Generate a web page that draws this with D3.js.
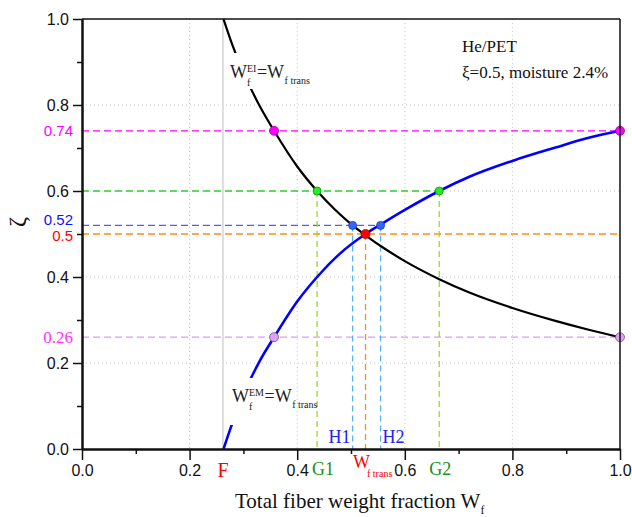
<!DOCTYPE html>
<html>
<head>
<meta charset="utf-8">
<script src="https://cdn.jsdelivr.net/npm/d3@7"></script>
<style>
body { margin: 0; background: #fff; }
.axis text { font-family: "Liberation Sans", Arial, sans-serif; font-size: 16px; fill: #111; }
.axis path, .axis line { stroke: #111; }
.serif { font-family: "Liberation Serif", "Times New Roman", serif; }
</style>
</head>
<body>
<div id="chart"></div>
<script>
// values
const wEI = [0.263, 0.28, 0.30, 0.33, 0.357, 0.40, 0.437, 0.47, 0.503, 0.527, 0.56, 0.60, 0.664, 0.72, 0.80, 0.88, 0.94, 1.0];
const zetaEI = [1.0, 0.938, 0.876, 0.798, 0.74, 0.657, 0.60, 0.557, 0.52, 0.497, 0.468, 0.437, 0.395, 0.364, 0.328, 0.298, 0.278, 0.26];
const wEM = [0.263, 0.28, 0.30, 0.33, 0.357, 0.40, 0.437, 0.48, 0.527, 0.555, 0.60, 0.664, 0.72, 0.80, 0.88, 0.94, 1.0];
const zetaEM = [0.0, 0.062, 0.126, 0.204, 0.26, 0.343, 0.40, 0.455, 0.50, 0.522, 0.556, 0.60, 0.633, 0.670, 0.701, 0.723, 0.74];

const fPoint = 0.262;

const markW = [0.357, 0.437, 0.503, 0.527, 0.555, 0.664, 1.0, 0.357, 1.0];
const markZeta = [0.74, 0.60, 0.52, 0.50, 0.52, 0.60, 0.74, 0.26, 0.26];
const markKind = ['m', 'g', 'h', 'x', 'h', 'g', 'm', 'l', 'l'];

const hLevels = [0.74, 0.60, 0.52, 0.50, 0.26];
const hEnds = [1.0, 0.664, 0.555, 1.0, 1.0];
const hLabels = ['0.74', '', '0.52', '0.5', '0.26'];

const vW = [0.437, 0.503, 0.527, 0.555, 0.664];
const vTops = [0.60, 0.52, 0.50, 0.52, 0.60];

const xTicks = [0, 0.2, 0.4, 0.6, 0.8, 1.0];
const yTicks = [0, 0.2, 0.4, 0.6, 0.8, 1.0];
const minorTicks = [0.1, 0.3, 0.5, 0.7, 0.9];
const gridVals = [0.2, 0.4, 0.6, 0.8];

const markStyle = {
    m: {fill: '#ff00ff', stroke: '#a000a0', r: 4.5},
    g: {fill: '#22ee22', stroke: '#118811', r: 4},
    h: {fill: '#3366ff', stroke: '#1a3399', r: 4},
    x: {fill: '#ff0000', stroke: '#881100', r: 4.5},
    l: {fill: '#e0a0f0', stroke: '#805090', r: 4.5}
};
const hColors = ['#ff00ff', '#33cc33', '#4466ee', '#ff8c1a', '#dd99ff'];
const hLabelColors = ['#ff00ff', '', '#1111ff', '#ff0000', '#ff33ff'];
const vColors = ['#99dd22', '#55b4f0', '#ff8c1a', '#55b4f0', '#99dd22'];

const margin = {top: 19, right: 12, bottom: 68, left: 82};
const W = 632, H = 517;
const width = W - margin.left - margin.right;
const height = H - margin.top - margin.bottom;

const svg = d3.select('#chart').append('svg')
    .attr('width', W)
    .attr('height', H);
const chart = svg.append('g')
    .attr('transform', `translate(${margin.left}, ${margin.top})`);

const x = d3.scaleLinear().domain([0, 1]).range([0, width]);
const y = d3.scaleLinear().domain([0, 1]).range([height, 0]);

// dotted grid
chart.selectAll('.gx').data(gridVals).join('line')
    .attr('x1', d => x(d)).attr('x2', d => x(d))
    .attr('y1', 0).attr('y2', height)
    .attr('stroke', '#c8c8c8').attr('stroke-dasharray', '1,3');
chart.selectAll('.gy').data(gridVals).join('line')
    .attr('y1', d => y(d)).attr('y2', d => y(d))
    .attr('x1', 0).attr('x2', width)
    .attr('stroke', '#c8c8c8').attr('stroke-dasharray', '1,3');

// solid gray line at F
chart.append('line')
    .attr('x1', x(fPoint)).attr('x2', x(fPoint))
    .attr('y1', 0).attr('y2', height)
    .attr('stroke', '#d4d4d4').attr('stroke-width', 1.5);

// horizontal guides
chart.selectAll('.hguide').data(hLevels).join('line')
    .attr('x1', 0).attr('x2', (d, i) => x(hEnds[i]))
    .attr('y1', d => y(d)).attr('y2', d => y(d))
    .attr('stroke', (d, i) => hColors[i])
    .attr('stroke-width', 1.3)
    .attr('stroke-dasharray', '7,4');

// vertical guides
chart.selectAll('.vguide').data(vW).join('line')
    .attr('x1', d => x(d)).attr('x2', d => x(d))
    .attr('y1', (d, i) => y(vTops[i])).attr('y2', height)
    .attr('stroke', (d, i) => vColors[i])
    .attr('stroke-width', 1.3)
    .attr('stroke-dasharray', '6,4');

// curves
const line = d3.line()
    .x(d => x(d[0]))
    .y(d => y(d[1]))
    .curve(d3.curveMonotoneX);

chart.append('path')
    .datum(d3.zip(wEI, zetaEI))
    .attr('d', line)
    .attr('fill', 'none')
    .attr('stroke', '#000')
    .attr('stroke-width', 2.2);

chart.append('path')
    .datum(d3.zip(wEM, zetaEM))
    .attr('d', line)
    .attr('fill', 'none')
    .attr('stroke', '#0000ff')
    .attr('stroke-width', 2.6);

// curve labels, a white box cuts the curve behind the label
function formula(px, py, sup, top, bot) {
    let g = svg.append('g').attr('class', 'serif');
    let box = g.append('rect').attr('fill', '#fff');
    let t1 = g.append('text').attr('x', px).attr('y', py).attr('font-size', 18).text('W');
    let cx = px + t1.node().getComputedTextLength();
    let s = g.append('text').attr('x', cx).attr('y', py - 6).attr('font-size', 10).text(sup);
    g.append('text').attr('x', cx).attr('y', py + 8).attr('font-size', 10).text('f');
    cx += s.node().getComputedTextLength() + 0.5;
    box.attr('x', px - 4).attr('y', top).attr('width', cx - px + 6).attr('height', bot - top);
    let t2 = g.append('text').attr('x', cx).attr('y', py).attr('font-size', 18).text('=W');
    cx += t2.node().getComputedTextLength() + 0.5;
    g.append('text').attr('x', cx).attr('y', py + 6).attr('font-size', 10).text('f trans');
    g.selectAll('text').attr('fill', '#222');
}
formula(230, 78, 'EI', 53, 89);
formula(232, 402, 'EM', 378, 425);

// markers
chart.selectAll('.mark').data(markW).join('circle')
    .attr('cx', d => x(d))
    .attr('cy', (d, i) => y(markZeta[i]))
    .attr('r', (d, i) => markStyle[markKind[i]].r)
    .attr('fill', (d, i) => markStyle[markKind[i]].fill)
    .attr('stroke', (d, i) => markStyle[markKind[i]].stroke)
    .attr('stroke-width', 0.8);

// frame
chart.append('line').attr('x1', 0).attr('x2', width).attr('y1', 0).attr('y2', 0)
    .attr('stroke', '#111').attr('stroke-width', 1.5);
chart.append('line').attr('x1', width).attr('x2', width).attr('y1', 0).attr('y2', height)
    .attr('stroke', '#111').attr('stroke-width', 1.5);

// axes
const xAxis = d3.axisBottom(x).tickValues(xTicks).tickSize(11).tickSizeOuter(0).tickPadding(5)
    .tickFormat(d3.format('.1f'));
const xMinor = d3.axisBottom(x).tickValues(minorTicks).tickSize(5).tickSizeOuter(0).tickFormat('');
const yAxis = d3.axisLeft(y).tickValues(yTicks).tickSize(9).tickSizeOuter(0).tickPadding(4)
    .tickFormat(d3.format('.1f'));
const yMinor = d3.axisLeft(y).tickValues(minorTicks).tickSize(5).tickSizeOuter(0).tickFormat('');

chart.append('g').attr('class', 'axis').attr('transform', `translate(0, ${height})`).call(xMinor);
chart.append('g').attr('class', 'axis').attr('transform', `translate(0, ${height})`).call(xAxis);
chart.append('g').attr('class', 'axis').call(yMinor);
chart.append('g').attr('class', 'axis').call(yAxis);
chart.selectAll('.axis path').attr('stroke-width', 2);
chart.selectAll('.axis line').attr('stroke-width', 1.5);

// colored level labels on the left
const levelDy = [0, 0, -6, 2, 0];
hLevels.forEach((d, i) => {
    if (!hLabels[i]) return;
    let serif = i === 4;
    svg.append('text')
        .attr('x', margin.left - 9)
        .attr('y', margin.top + y(d) + levelDy[i])
        .attr('dy', '0.35em')
        .attr('text-anchor', 'end')
        .attr('font-family', serif ? '"Liberation Serif", serif' : '"Liberation Sans", Arial, sans-serif')
        .attr('font-size', serif ? 17 : 15)
        .attr('fill', hLabelColors[i])
        .text(hLabels[i]);
});

// letters under the plot
const bottom = svg.append('g').attr('class', 'serif');
bottom.append('text').attr('x', margin.left + x(fPoint)).attr('y', 477)
    .attr('text-anchor', 'middle').attr('font-size', 20).attr('fill', '#ff0000').text('F');
bottom.append('text').attr('x', margin.left + x(0.437) - 5).attr('y', 475)
    .attr('font-size', 18).attr('fill', '#1a8f1a').text('G1');
bottom.append('text').attr('x', margin.left + x(0.664) - 10).attr('y', 475)
    .attr('font-size', 18).attr('fill', '#1a8f1a').text('G2');
bottom.append('text').attr('x', margin.left + x(0.503) - 2).attr('y', 443)
    .attr('text-anchor', 'end').attr('font-size', 18).attr('fill', '#2222ee').text('H1');
bottom.append('text').attr('x', margin.left + x(0.555) + 2).attr('y', 443)
    .attr('font-size', 18).attr('fill', '#2222ee').text('H2');
bottom.append('text').attr('x', 353).attr('y', 468)
    .attr('font-size', 18).attr('fill', '#ff0000').text('W');
bottom.append('text').attr('x', 367).attr('y', 477)
    .attr('font-size', 10).attr('fill', '#ff0000').text('f trans');

// annotations
const note = svg.append('g').attr('class', 'serif').attr('fill', '#111');
note.append('text').attr('x', 462).attr('y', 52).attr('font-size', 17).text('He/PET');
note.append('text').attr('x', 462).attr('y', 78).attr('font-size', 17).text('ξ=0.5, moisture 2.4%');

// axis titles
const xt = svg.append('text').attr('class', 'serif').attr('x', 235).attr('y', 508)
    .attr('font-size', 21).attr('fill', '#111').text('Total fiber weight fraction W');
const xtEnd = 235 + xt.node().getComputedTextLength();
svg.append('text').attr('class', 'serif').attr('x', xtEnd).attr('y', 514)
    .attr('font-size', 12).attr('fill', '#111').text('f');

svg.append('text').attr('class', 'serif')
    .attr('transform', 'translate(25, 222) rotate(-90)')
    .attr('text-anchor', 'middle')
    .attr('font-size', 24).attr('fill', '#111').text('ζ');
</script>
</body>
</html>
